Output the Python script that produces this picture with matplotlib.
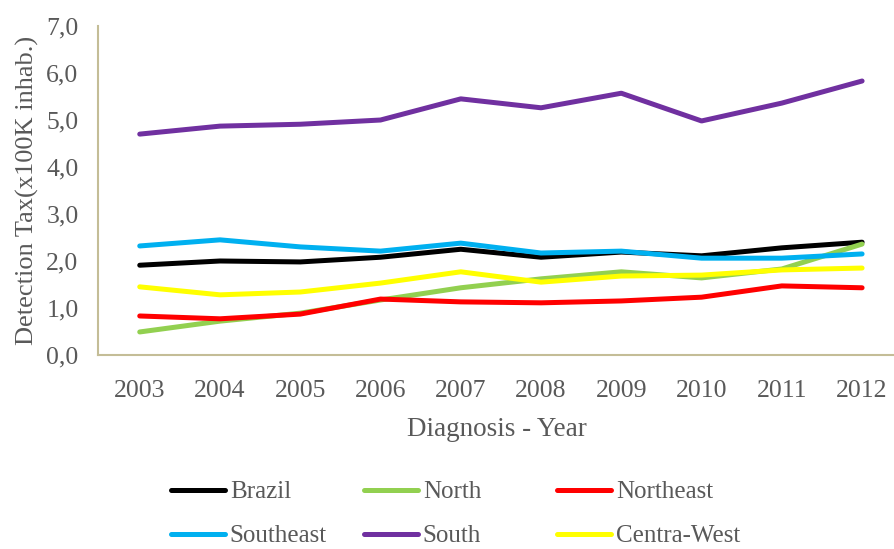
import matplotlib
matplotlib.use("Agg")
from matplotlib import pyplot as plt

years = [2003, 2004, 2005, 2006, 2007, 2008, 2009, 2010, 2011, 2012]
brazil = [1.91, 2.00, 1.98, 2.08, 2.25, 2.08, 2.19, 2.11, 2.28, 2.40]
north = [0.49, 0.72, 0.89, 1.17, 1.43, 1.62, 1.77, 1.64, 1.83, 2.36]
northeast = [0.83, 0.77, 0.87, 1.19, 1.13, 1.11, 1.15, 1.23, 1.47, 1.43]
southeast = [2.32, 2.45, 2.30, 2.21, 2.38, 2.17, 2.21, 2.06, 2.06, 2.15]
south = [4.70, 4.87, 4.91, 5.00, 5.45, 5.26, 5.57, 4.98, 5.36, 5.83]
centra_west = [1.45, 1.28, 1.34, 1.53, 1.77, 1.55, 1.68, 1.70, 1.81, 1.85]

names = ["Brazil", "North", "Northeast", "Southeast", "South", "Centra-West"]
series = [brazil, north, northeast, southeast, south, centra_west]
colors = ["#000000", "#92D050", "#FF0000", "#00B0F0", "#7030A0", "#FFFF00"]

plt.rcParams["font.family"] = ["Liberation Serif", "DejaVu Serif"]
grey = "#595959"

fig = plt.figure(figsize=(8.95, 5.49), dpi=100)
ax = fig.add_axes([0.1095, 0.3534, 0.8905, 0.5992])

lines = {}
for name, vals, c in zip(names, series, colors):
    ln, = ax.plot(years, vals, color=c, lw=3.6, solid_capstyle="round",
                  solid_joinstyle="round", label=name)
    lines[name] = ln

ax.set_ylim(0, 7)
ax.set_xlim(2002.48, 2012.41)
ax.set_xticks(years)
ax.set_yticks(range(8))
ax.set_yticklabels([f"{v},0" for v in range(8)])
ax.tick_params(length=0, labelsize=18.5, colors=grey)
ax.tick_params(axis="x", pad=18)
ax.tick_params(axis="y", pad=14)
for s in ["top", "right"]:
    ax.spines[s].set_visible(False)
for s in ["left", "bottom"]:
    ax.spines[s].set_color("#C4BD97")
    ax.spines[s].set_linewidth(1.5)

ax.set_xlabel("Diagnosis - Year", fontsize=19.5, color=grey, labelpad=11)
ax.set_ylabel("Detection Tax(x100K inhab.)", fontsize=19, color=grey, labelpad=5)

# three legend columns, evenly spaced like the original
cols = [["Brazil", "Southeast"], ["North", "South"], ["Northeast", "Centra-West"]]
col_x = [171, 364, 557]
for entries, x in zip(cols, col_x):
    leg = fig.legend([lines[n] for n in entries], entries, frameon=False,
                     loc="upper left", bbox_to_anchor=(x / 895, 1 - 481 / 549),
                     borderaxespad=0, borderpad=0,
                     fontsize=18, handlelength=2.15, handletextpad=0.2,
                     labelspacing=0.85)
    for t in leg.get_texts():
        t.set_color(grey)

fig.savefig("out.png", dpi=100)
